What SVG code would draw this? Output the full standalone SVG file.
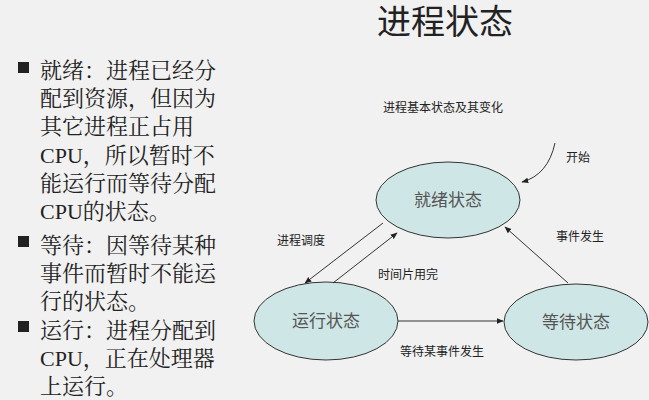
<svg xmlns="http://www.w3.org/2000/svg" width="649" height="400" viewBox="0 0 649 400">
<defs>
<style>
.l{font-family:"Liberation Serif","Noto Serif CJK SC","Noto Sans CJK SC",serif;font-size:22px;fill:#222}
.s{font-family:"Noto Sans CJK SC",sans-serif;font-size:12px;fill:#222}
.n{font-family:"Liberation Serif","Noto Sans CJK SC",serif;font-size:17px;fill:#555;text-anchor:middle}
.e{fill:#cfe6e6;stroke:#333;stroke-width:1}
.c{stroke:#333;stroke-width:1;fill:none;marker-end:url(#a)}
</style>
<marker id="a" viewBox="0 0 10 10" refX="9" refY="5" markerWidth="7" markerHeight="7" orient="auto"><path d="M0,1L10,5L0,9z" fill="#222"/></marker>
</defs>
<rect width="649" height="400" fill="#f1f1f1"/>
<text x="445" y="34" font-family="Liberation Serif,Noto Sans CJK SC,serif" font-size="34" fill="#222" text-anchor="middle">进程状态</text>
<g id="list" class="l">
<rect x="18" y="62" width="11" height="11" fill="#222"/>
<rect x="18" y="236" width="11" height="11" fill="#222"/>
<rect x="18" y="321" width="11" height="11" fill="#222"/>
<text x="40" y="78">就绪：进程已经分</text>
<text x="40" y="106">配到资源，但因为</text>
<text x="40" y="134">其它进程正占用</text>
<text x="40" y="163">CPU，所以暂时不</text>
<text x="40" y="191">能运行而等待分配</text>
<text x="40" y="219">CPU的状态。</text>
<text x="40" y="253">等待：因等待某种</text>
<text x="40" y="281">事件而暂时不能运</text>
<text x="40" y="309">行的状态。</text>
<text x="40" y="338">运行：进程分配到</text>
<text x="40" y="366">CPU，正在处理器</text>
<text x="40" y="394">上运行。</text>
</g>
<text class="s" x="383" y="112">进程基本状态及其变化</text>
<g id="ready"><ellipse class="e" cx="448" cy="200" rx="72" ry="38"/><text class="n" x="448" y="206">就绪状态</text></g>
<g id="run"><ellipse class="e" cx="326" cy="321" rx="72" ry="39"/><text class="n" x="326" y="327">运行状态</text></g>
<g id="wait"><ellipse class="e" cx="576" cy="322" rx="72" ry="38"/><text class="n" x="576" y="328">等待状态</text></g>
<g id="connectors">
<path class="c" d="M555,143 Q548,175 522,182"/>
<path class="c" d="M383,223 L305,283"/>
<path class="c" d="M333,283 L397,233"/>
<path class="c" d="M568,283 L505,227"/>
<path class="c" d="M398,321 L503,321"/>
</g>
<g class="s">
<text x="566" y="162">开始</text>
<text x="556" y="241">事件发生</text>
<text x="277" y="245">进程调度</text>
<text x="378" y="279">时间片用完</text>
<text x="400" y="356">等待某事件发生</text>
</g>
</svg>
